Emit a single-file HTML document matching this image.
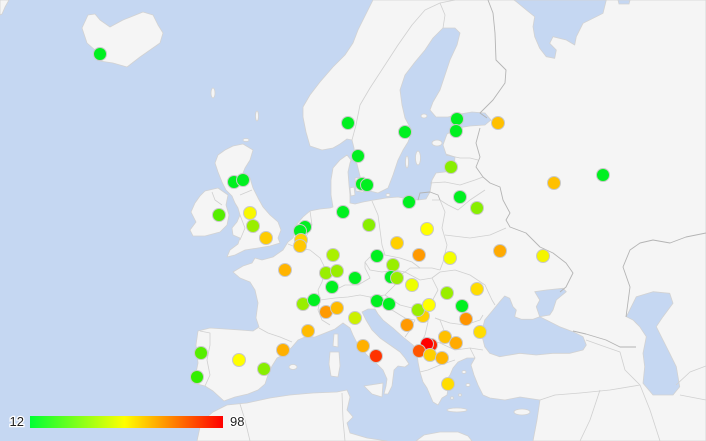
<!DOCTYPE html>
<html><head><meta charset="utf-8"><style>
html,body{margin:0;padding:0;background:#c5d7f2;}
svg{display:block;}
text{font-family:"Liberation Sans",Arial,sans-serif;}
</style></head><body>
<svg width="706" height="441" viewBox="0 0 706 441" xmlns="http://www.w3.org/2000/svg">
<defs>
<linearGradient id="lg" x1="0" x2="1" y1="0" y2="0">
<stop offset="0" stop-color="#00ff33"/><stop offset="0.49" stop-color="#ffff00"/><stop offset="1" stop-color="#ff0000"/>
</linearGradient>
</defs>
<rect x="0" y="0" width="706" height="441" fill="#c5d7f2"/>
<g fill="#f5f5f5" stroke="#d2d2d2" stroke-width="0.8" stroke-linejoin="round">
<polygon points="0,0 9,0 5,7 2,14 0,15"/>
<polygon points="82,28 88,15 95,14 100,20 110,27 123,20 143,12 153,15 158,25 163,33 160,43 150,50 140,57 127,67 113,63 100,61 94,55 95,50 87,43 85,37"/>
<polygon points="373,0 706,0 706,441 533,441 537,420 540,400 520,397 505,400 490,398 483,395 478,385 474,375 471,365 475,358 467,358 458,362 453,368 450,375 445,382 448,388 447,395 442,398 438,405 433,402 430,395 427,388 423,382 420,372 418,362 417,352 413,345 403,337 393,328 383,320 378,314 375,309 368,309 362,312 366,320 372,330 380,338 390,345 400,352 405,358 409,364 405,367 398,366 394,370 393,378 392,386 388,394 384,394 386,386 387,379 383,370 375,362 367,355 358,345 353,335 350,328 343,323 335,329 325,333 315,337 305,337 298,340 292,347 285,354 277,358 272,366 268,375 265,384 258,390 248,394 235,397 224,401 213,391 205,386 197,384 195,378 198,363 196,345 198,331 210,328 225,329 240,330 253,331 259,327 256,318 258,303 255,290 250,282 240,278 233,272 243,266 252,263 255,258 262,260 273,257 283,250 288,242 293,238 295,232 297,224 303,217 310,211 320,209 330,208 333,207 331,195 331,180 333,168 340,160 347,155 351,160 355,160 354,148 352,140 347,139 340,144 333,148 322,150 310,146 306,132 303,117 303,107 310,95 320,82 333,67 345,55 353,43 358,30 363,20 368,10 373,0"/>
<polygon points="197,441 200,427 206,418 213,412 227,405 247,403 270,398 290,395 313,393 337,392 347,390 350,397 347,410 353,417 347,423 350,433 367,438 387,441"/>
<polygon points="416,441 424,435 440,432 458,432 468,436 472,441"/>
</g>
<g fill="#c5d7f2" stroke="#d2d2d2" stroke-width="0.8" stroke-linejoin="round">
<polygon points="351,160 356,160 358,168 361,180 366,190 378,193 388,188 393,175 398,160 403,150 408,142 412,131 405,118 402,105 400,90 405,75 415,62 425,50 433,38 443,28 455,28 460,33 457,45 450,60 445,75 440,90 433,102 430,110 436,117 448,117 460,114 472,112 485,113 491,120 485,125 470,126 458,128 447,134 443,145 446,154 455,157 454,168 445,172 436,173 432,180 430,192 426,199 418,200 408,199 398,197 386,198 374,200 363,202 355,204 350,203 350,195 349,185 348,172 350,163"/>
<polygon points="504.7,296 509.7,298.3 513,306.7 516.3,310 514.7,316.7 521.3,319.3 533,319.3 539.7,316.7 546.3,320 559.7,326.7 573,331.7 583,336.7 586.3,345 583,350 569.7,353.3 553,353.3 536.3,355 519.7,353.3 499.7,356.7 489.7,353.3 484.7,346.7 481.3,333.3 484.7,320 493,310 499.7,301.7"/>
<polygon points="534.7,291.7 546.3,290 563,288.3 566.3,291.7 556.3,300 553,310 549.7,315 539.7,316.7 536.3,306.7 539.7,300"/>
<polygon points="636.3,296.7 653,291.7 669.7,293.3 673,303.3 663,316.7 656.3,326.7 663,340 669.7,353.3 676.3,366.7 679.7,386.7 673,395 653,395 643,383.3 644.7,366.7 643,353.3 646.3,336.7 639.7,326.7 633,320 626.3,316.7 631.3,306.7"/>
<polygon points="514,0 516.3,1.7 526.3,10 534.7,16.7 533,26.7 534.7,36.7 539.7,48.3 546.3,56.7 554.7,58.3 556.3,50 549.7,43.3 553,36.7 566.3,40 574.7,45 576.3,36.7 583,23.3 596.3,16.7 603,13.3 606.3,0"/>
<polygon points="618,0 630,0 629,4 619,4"/>
</g>
<g fill="#f5f5f5" stroke="#d2d2d2" stroke-width="0.8" stroke-linejoin="round">
<polygon points="233,146 243,144 253,150 250,160 245,168 243,173 250,178 253,188 258,198 263,207 270,215 278,222 281,230 278,238 280,243 270,246 258,248 245,250 235,255 227,257 230,250 238,244 240,238 233,235 232,228 237,222 240,215 238,208 235,203 232,196 226,190 222,182 218,172 215,163 218,155 225,150"/>
<polygon points="205,191 218,188 228,195 226,205 229,215 227,225 220,232 205,236 193,236 190,230 196,222 191,212 195,203 200,196"/>
<polygon points="355,178 364,177 367,185 363,192 356,191"/>
<polygon points="350,188 354,187 355,195 351,196"/>
<ellipse cx="418" cy="158" rx="2.5" ry="7"/>
<ellipse cx="407" cy="162" rx="1.5" ry="6"/>
<ellipse cx="437" cy="143" rx="5" ry="3"/>
<ellipse cx="424" cy="116" rx="3" ry="2"/>
<ellipse cx="388" cy="195" rx="2" ry="1.5"/>
<polygon points="334,334 338,334 338,347 333,346"/>
<polygon points="330,352 339,352 340,366 338,377 331,376 329,364"/>
<polygon points="364,386 383,383 382,397 372,394"/>
<ellipse cx="293" cy="367" rx="4" ry="2.5"/>
<ellipse cx="457" cy="410" rx="10" ry="2"/>
<ellipse cx="522" cy="412" rx="8" ry="3"/>
<ellipse cx="213" cy="93" rx="2" ry="5"/>
<ellipse cx="257" cy="116" rx="1.5" ry="5"/>
<ellipse cx="246" cy="140" rx="3" ry="1.5"/>
<ellipse cx="464" cy="372" rx="2" ry="1.5"/>
<ellipse cx="468" cy="385" rx="2" ry="1.5"/>
<ellipse cx="460" cy="395" rx="1.5" ry="1.2"/>
<ellipse cx="452" cy="398" rx="1.5" ry="1.2"/>
</g>
<g fill="none" stroke="#d0d0d0" stroke-width="0.8" stroke-linejoin="round">
<polyline points="352,140 356,125 360,105 370,88 385,65 398,45 412,25 425,10 440,3"/>
<polyline points="443,28 445,15 440,3 455,0"/>
<polyline points="446,155 460,158 470,158 478,160"/>
<polyline points="430,183 445,182 460,185 475,180 483,177"/>
<polyline points="440,200 448,205 458,210 470,200 485,190"/>
<polyline points="432,200 440,200 445,212 442,228 447,245 443,262 440,270"/>
<polyline points="445,235 470,238 490,235 506,228"/>
<polyline points="372,201 378,215 380,230 382,245 385,255"/>
<polyline points="365,262 372,255 385,255 400,258 412,262 420,268 432,268 440,270"/>
<polyline points="365,262 370,270 382,272 395,270 405,272 410,268 420,268"/>
<polyline points="335,290 345,285 358,285 370,278 365,268 365,262"/>
<polyline points="288,244 298,248 310,250 320,258 325,268 322,282 318,290"/>
<polyline points="310,211 312,225 307,235 300,243 298,248"/>
<polyline points="318,290 320,300 318,310 322,320 330,325"/>
<polyline points="320,300 335,298 348,297 360,295 370,297 375,307"/>
<polyline points="370,297 385,295 395,285 400,275 405,272"/>
<polyline points="405,272 420,280 432,278 440,272"/>
<polyline points="432,278 438,290 430,305 425,310"/>
<polyline points="385,295 400,305 412,308 425,310"/>
<polyline points="392,310 405,318 415,320 410,330 405,337"/>
<polyline points="425,310 428,322 425,335 420,345 430,340 440,343 445,333 440,320 435,318"/>
<polyline points="435,318 450,323 465,325 480,320 483,315"/>
<polyline points="440,272 455,270 470,275 485,285 492,300 495,305"/>
<polyline points="440,343 455,350 470,348 483,350"/>
<polyline points="470,348 475,358"/>
<polyline points="420,372 428,370 440,365 455,360"/>
<polyline points="259,328 268,333 280,337 292,342"/>
<polyline points="200,331 210,333 210,345 207,360 210,375 205,386"/>
<polyline points="540,400 555,395 580,393 610,390 640,385"/>
<polyline points="586,340 600,345 620,352 625,370 640,385 650,410 660,441"/>
<polyline points="600,390 590,420 580,441"/>
<polyline points="676,385 690,372 706,366"/>
<polyline points="680,395 706,400"/>
<polyline points="240,404 245,420 250,441"/>
<polyline points="342,393 343,420 345,441"/>
<polyline points="240,195 252,190"/>
<polyline points="240,215 245,228 240,240"/>
<polyline points="212,192 215,200 222,205"/>
</g>
<g fill="none" stroke="#b4b4b4" stroke-width="0.9" stroke-linejoin="round">
<polyline points="488,0 493,13 495,33 496,60 506,70 505,83 493,100 480,113 487,118"/>
<polyline points="480,128 476,143 480,157 476,167 483,177 490,183 500,187 503,200 510,213 506,220 510,227 526,233 533,240 540,247 553,253 566,263 573,273 566,287 560,292"/>
<polyline points="418,200 420,193 430,192 438,195 440,200"/>
<polyline points="573,331 586,334 606,340 620,347 636,347"/>
<polyline points="626,317 630,287 623,267 630,250 640,243 653,240 670,243 686,237 706,233"/>
</g>
<g stroke="#c8c8c8" stroke-width="1">
<circle cx="100" cy="54" r="6.5" fill="#00f020"/>
<circle cx="234" cy="182" r="6.5" fill="#00f020"/>
<circle cx="243" cy="180" r="6.5" fill="#00f020"/>
<circle cx="219" cy="215" r="6.5" fill="#55ee00"/>
<circle cx="250" cy="213" r="6.5" fill="#f8f800"/>
<circle cx="253" cy="226" r="6.5" fill="#99ee00"/>
<circle cx="266" cy="238" r="6.5" fill="#ffcc00"/>
<circle cx="305" cy="227" r="6.5" fill="#00f020"/>
<circle cx="300" cy="231" r="6.5" fill="#00f020"/>
<circle cx="301" cy="240" r="6.5" fill="#ffd400"/>
<circle cx="300" cy="246" r="6.5" fill="#ffc800"/>
<circle cx="285" cy="270" r="6.5" fill="#ffb400"/>
<circle cx="333" cy="255" r="6.5" fill="#aaf000"/>
<circle cx="326" cy="273" r="6.5" fill="#99ee00"/>
<circle cx="337" cy="271" r="6.5" fill="#99ee00"/>
<circle cx="332" cy="287" r="6.5" fill="#00f020"/>
<circle cx="343" cy="212" r="6.5" fill="#00f020"/>
<circle cx="348" cy="123" r="6.5" fill="#00f020"/>
<circle cx="358" cy="156" r="6.5" fill="#00f020"/>
<circle cx="362" cy="184" r="6.5" fill="#00f020"/>
<circle cx="367" cy="185" r="6.5" fill="#00f020"/>
<circle cx="369" cy="225" r="6.5" fill="#88ee00"/>
<circle cx="409" cy="202" r="6.5" fill="#00f020"/>
<circle cx="405" cy="132" r="6.5" fill="#00f020"/>
<circle cx="457" cy="119" r="6.5" fill="#00f020"/>
<circle cx="456" cy="131" r="6.5" fill="#00f020"/>
<circle cx="498" cy="123" r="6.5" fill="#ffc000"/>
<circle cx="451" cy="167" r="6.5" fill="#88ee00"/>
<circle cx="460" cy="197" r="6.5" fill="#00f020"/>
<circle cx="477" cy="208" r="6.5" fill="#88ee00"/>
<circle cx="554" cy="183" r="6.5" fill="#ffc000"/>
<circle cx="603" cy="175" r="6.5" fill="#00f020"/>
<circle cx="427" cy="229" r="6.5" fill="#ffff00"/>
<circle cx="397" cy="243" r="6.5" fill="#ffd000"/>
<circle cx="419" cy="255" r="6.5" fill="#ff9900"/>
<circle cx="377" cy="256" r="6.5" fill="#00f020"/>
<circle cx="393" cy="265" r="6.5" fill="#99ee00"/>
<circle cx="450" cy="258" r="6.5" fill="#f4ff00"/>
<circle cx="500" cy="251" r="6.5" fill="#ffaa00"/>
<circle cx="543" cy="256" r="6.5" fill="#f4f400"/>
<circle cx="355" cy="278" r="6.5" fill="#00f020"/>
<circle cx="391" cy="277" r="6.5" fill="#00f020"/>
<circle cx="397" cy="278" r="6.5" fill="#99ee00"/>
<circle cx="412" cy="285" r="6.5" fill="#eeff00"/>
<circle cx="477" cy="289" r="6.5" fill="#ffdd00"/>
<circle cx="447" cy="293" r="6.5" fill="#99ee00"/>
<circle cx="377" cy="301" r="6.5" fill="#00f020"/>
<circle cx="389" cy="304" r="6.5" fill="#00f020"/>
<circle cx="423" cy="316" r="6.5" fill="#ffd000"/>
<circle cx="418" cy="310" r="6.5" fill="#99ee00"/>
<circle cx="429" cy="305" r="6.5" fill="#ffff00"/>
<circle cx="462" cy="306" r="6.5" fill="#00f020"/>
<circle cx="355" cy="318" r="6.5" fill="#ccf000"/>
<circle cx="407" cy="325" r="6.5" fill="#ff9900"/>
<circle cx="466" cy="319" r="6.5" fill="#ff9400"/>
<circle cx="480" cy="332" r="6.5" fill="#ffdd00"/>
<circle cx="445" cy="337" r="6.5" fill="#ffc000"/>
<circle cx="456" cy="343" r="6.5" fill="#ffaa00"/>
<circle cx="431" cy="345" r="6.5" fill="#ff2200"/>
<circle cx="427" cy="344" r="6.5" fill="#ff0000"/>
<circle cx="419" cy="351" r="6.5" fill="#ff5500"/>
<circle cx="430" cy="355" r="6.5" fill="#ffd000"/>
<circle cx="442" cy="358" r="6.5" fill="#ffb400"/>
<circle cx="363" cy="346" r="6.5" fill="#ffb000"/>
<circle cx="376" cy="356" r="6.5" fill="#ff3300"/>
<circle cx="448" cy="384" r="6.5" fill="#ffdd00"/>
<circle cx="303" cy="304" r="6.5" fill="#99ee00"/>
<circle cx="314" cy="300" r="6.5" fill="#00f020"/>
<circle cx="326" cy="312" r="6.5" fill="#ff9900"/>
<circle cx="337" cy="308" r="6.5" fill="#ffbb00"/>
<circle cx="308" cy="331" r="6.5" fill="#ffbb00"/>
<circle cx="283" cy="350" r="6.5" fill="#ffb000"/>
<circle cx="264" cy="369" r="6.5" fill="#88ee00"/>
<circle cx="201" cy="353" r="6.5" fill="#55ee00"/>
<circle cx="197" cy="377" r="6.5" fill="#33ee00"/>
<circle cx="239" cy="360" r="6.5" fill="#ffff00"/>
</g>
<rect x="30" y="416" width="193" height="12" fill="url(#lg)"/>
<text x="24" y="426" font-size="13" text-anchor="end" fill="#222" stroke="#fff" stroke-width="2.5" paint-order="stroke">12</text>
<text x="230" y="426" font-size="13" fill="#222" stroke="#fff" stroke-width="2.5" paint-order="stroke">98</text>
</svg>
</body></html>
